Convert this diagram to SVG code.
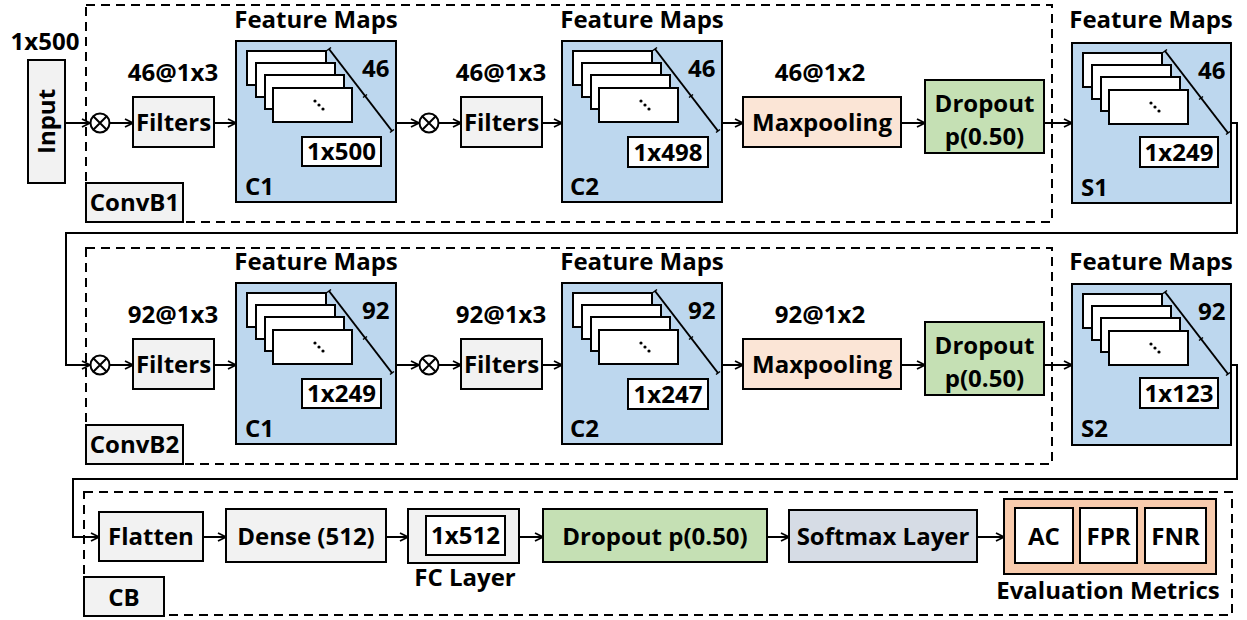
<svg xmlns="http://www.w3.org/2000/svg" width="1247" height="620" viewBox="0 0 1247 620">
  <style>
    text { font-family: "Open Sans", "Liberation Sans", sans-serif; font-weight: 700; fill: #000; }
    .t { font-size: 24px; }
    .c { text-anchor: middle; }
    .box { stroke: #000; stroke-width: 2; }
    .gray { fill: #f2f2f2; }
    .blue { fill: #bdd7ee; }
    .peach { fill: #fbe5d6; }
    .green { fill: #c5e0b4; }
    .slate { fill: #d6dce5; }
    .eval { fill: #f8cbad; }
    .white { fill: #fff; }
    .dash { fill: none; stroke: #000; stroke-width: 2; stroke-dasharray: 9 6; }
    .arr { fill: none; stroke: #000; stroke-width: 2; marker-end: url(#head); }
    .sheet { fill: #fff; stroke: #000; stroke-width: 2; }
  </style>
  <defs>
    <marker id="head" viewBox="0 0 10 10" refX="9" refY="5" markerWidth="10" markerHeight="10" markerUnits="userSpaceOnUse" orient="auto">
      <path d="M1,1 L9,5 L1,9" fill="none" stroke="#000" stroke-width="1.8"/>
    </marker>
    <!-- multiply junction -->
    <g id="mul">
      <circle cx="0" cy="0" r="9.5" fill="#fff" stroke="#000" stroke-width="2"/>
      <path d="M-6.7,-6.7 L6.7,6.7 M6.7,-6.7 L-6.7,6.7" stroke="#000" stroke-width="2"/>
    </g>
    <!-- stack of feature-map sheets, drawn relative to the block's top-left corner -->
    <g id="stack">
      <rect class="sheet" x="11" y="10" width="79" height="34"/>
      <rect class="sheet" x="20" y="22" width="79" height="34"/>
      <rect class="sheet" x="29" y="34" width="79" height="34"/>
      <rect class="sheet" x="37" y="47" width="79" height="34"/>
      <circle cx="79" cy="60" r="1.6"/>
      <circle cx="83" cy="64" r="1.6"/>
      <circle cx="87" cy="68" r="1.6"/>
      <path d="M93,8 L156,90" stroke="#000" stroke-width="2"/>
      <path d="M91,9.5 L95,6.5 M154,91.5 L158,88.5 M127,56.5 L131,53.5" stroke="#000" stroke-width="1.5"/>
    </g>
  </defs>

  <!-- ===== Conv block 1 ===== -->
  <g id="input">
    <rect class="box gray" x="28" y="60" width="37" height="123"/>
    <text class="t c" transform="translate(55,121.5) rotate(-90)">Input</text>
    <text class="t c" x="45" y="50">1x500</text>
  </g>

  <g id="convb1">
    <rect class="dash" x="86" y="5" width="966" height="217"/>
    <rect class="box gray" x="86" y="183" width="97" height="39"/>
    <text class="t c" x="134.5" y="211">ConvB1</text>
  </g>

  <g id="mul1a"><use href="#mul" x="100" y="123"/></g>
  <g id="filters1a">
    <text class="t c" x="173" y="81">46@1x3</text>
    <rect class="box gray" x="133" y="97" width="81" height="50"/>
    <text class="t c" x="173.5" y="131">Filters</text>
  </g>
  <g id="c1a">
    <text class="t c" x="316" y="28">Feature Maps</text>
    <rect class="box blue" x="236" y="41" width="160" height="161"/>
    <use href="#stack" x="236" y="41"/>
    <text class="t" x="362" y="77">46</text>
    <rect class="box white" x="302" y="137" width="79" height="29"/>
    <text class="t c" x="341.5" y="160">1x500</text>
    <text class="t" x="245" y="195">C1</text>
  </g>
  <g id="mul1b"><use href="#mul" x="429" y="123"/></g>
  <g id="filters1b">
    <text class="t c" x="501" y="81">46@1x3</text>
    <rect class="box gray" x="461" y="97" width="81" height="50"/>
    <text class="t c" x="501.5" y="131">Filters</text>
  </g>
  <g id="c2a">
    <text class="t c" x="642" y="28">Feature Maps</text>
    <rect class="box blue" x="562" y="41" width="160" height="161"/>
    <use href="#stack" x="562" y="41"/>
    <text class="t" x="688" y="77">46</text>
    <rect class="box white" x="628" y="137" width="80" height="30"/>
    <text class="t c" x="668" y="161">1x498</text>
    <text class="t" x="570" y="195">C2</text>
  </g>
  <g id="pool1">
    <text class="t c" x="820" y="81">46@1x2</text>
    <rect class="box peach" x="743" y="97" width="158" height="50"/>
    <text class="t c" x="822" y="131">Maxpooling</text>
  </g>
  <g id="drop1">
    <rect class="box green" x="925" y="80" width="119" height="73"/>
    <text class="t c" x="984.5" y="112">Dropout</text>
    <text class="t c" x="984.5" y="145">p(0.50)</text>
  </g>
  <g id="s1">
    <text class="t c" x="1151" y="28">Feature Maps</text>
    <rect class="box blue" x="1072" y="43" width="159" height="160"/>
    <use href="#stack" x="1072" y="43"/>
    <text class="t" x="1198" y="79">46</text>
    <rect class="box white" x="1140" y="137" width="78" height="30"/>
    <text class="t c" x="1179" y="161">1x249</text>
    <text class="t" x="1081" y="196">S1</text>
  </g>

  <!-- ===== Conv block 2 ===== -->
  <g id="convb2">
    <rect class="dash" x="86" y="248" width="966" height="216"/>
    <rect class="box gray" x="86" y="425" width="97" height="39"/>
    <text class="t c" x="134.5" y="453">ConvB2</text>
  </g>

  <g id="mul2a"><use href="#mul" x="100" y="365"/></g>
  <g id="filters2a">
    <text class="t c" x="173" y="323">92@1x3</text>
    <rect class="box gray" x="133" y="339" width="81" height="50"/>
    <text class="t c" x="173.5" y="373">Filters</text>
  </g>
  <g id="c1b">
    <text class="t c" x="316" y="270">Feature Maps</text>
    <rect class="box blue" x="236" y="283" width="160" height="161"/>
    <use href="#stack" x="236" y="283"/>
    <text class="t" x="362" y="319">92</text>
    <rect class="box white" x="302" y="379" width="79" height="29"/>
    <text class="t c" x="341.5" y="402">1x249</text>
    <text class="t" x="245" y="437">C1</text>
  </g>
  <g id="mul2b"><use href="#mul" x="429" y="365"/></g>
  <g id="filters2b">
    <text class="t c" x="501" y="323">92@1x3</text>
    <rect class="box gray" x="461" y="339" width="81" height="50"/>
    <text class="t c" x="501.5" y="373">Filters</text>
  </g>
  <g id="c2b">
    <text class="t c" x="642" y="270">Feature Maps</text>
    <rect class="box blue" x="562" y="283" width="160" height="161"/>
    <use href="#stack" x="562" y="283"/>
    <text class="t" x="688" y="319">92</text>
    <rect class="box white" x="628" y="379" width="80" height="30"/>
    <text class="t c" x="668" y="403">1x247</text>
    <text class="t" x="570" y="437">C2</text>
  </g>
  <g id="pool2">
    <text class="t c" x="820" y="323">92@1x2</text>
    <rect class="box peach" x="743" y="339" width="158" height="50"/>
    <text class="t c" x="822" y="373">Maxpooling</text>
  </g>
  <g id="drop2">
    <rect class="box green" x="925" y="322" width="119" height="73"/>
    <text class="t c" x="984.5" y="354">Dropout</text>
    <text class="t c" x="984.5" y="387">p(0.50)</text>
  </g>
  <g id="s2">
    <text class="t c" x="1151" y="270">Feature Maps</text>
    <rect class="box blue" x="1072" y="284" width="159" height="161"/>
    <use href="#stack" x="1072" y="284"/>
    <text class="t" x="1198" y="320">92</text>
    <rect class="box white" x="1140" y="378" width="78" height="30"/>
    <text class="t c" x="1179" y="402">1x123</text>
    <text class="t" x="1081" y="437">S2</text>
  </g>

  <!-- ===== Classification block ===== -->
  <g id="cb">
    <rect class="dash" x="84" y="492" width="1148" height="123"/>
    <rect class="box gray" x="84" y="577" width="80" height="39"/>
    <text class="t c" x="124" y="606">CB</text>
  </g>
  <g id="flatten">
    <rect class="box gray" x="99" y="512" width="104" height="49"/>
    <text class="t c" x="151" y="545">Flatten</text>
  </g>
  <g id="dense">
    <rect class="box gray" x="226" y="509" width="160" height="53"/>
    <text class="t c" x="306" y="545">Dense (512)</text>
  </g>
  <g id="fc">
    <rect class="box gray" x="408" y="509" width="111" height="54"/>
    <rect class="box white" x="426" y="516" width="79" height="39"/>
    <text class="t c" x="465.5" y="544">1x512</text>
    <text class="t c" x="465" y="586">FC Layer</text>
  </g>
  <g id="drop3">
    <rect class="box green" x="543" y="509" width="224" height="53"/>
    <text class="t c" x="655" y="545">Dropout p(0.50)</text>
  </g>
  <g id="softmax">
    <rect class="box slate" x="789" y="510" width="188" height="52"/>
    <text class="t c" x="883" y="545">Softmax Layer</text>
  </g>
  <g id="metrics">
    <rect class="box eval" x="1004" y="499" width="212" height="75"/>
    <rect class="box white" x="1015" y="508" width="58" height="55"/>
    <text class="t c" x="1044" y="545">AC</text>
    <rect class="box white" x="1080" y="508" width="57" height="55"/>
    <text class="t c" x="1108.5" y="545">FPR</text>
    <rect class="box white" x="1145" y="508" width="61" height="55"/>
    <text class="t c" x="1175.5" y="545">FNR</text>
    <text class="t c" x="1108" y="599">Evaluation Metrics</text>
  </g>

  <!-- ===== connectors ===== -->
  <g id="connectors">
    <line class="arr" x1="65" y1="123" x2="90" y2="123"/>
    <line class="arr" x1="110" y1="123" x2="133" y2="123"/>
    <line class="arr" x1="214" y1="123" x2="236" y2="123"/>
    <line class="arr" x1="396" y1="123" x2="419" y2="123"/>
    <line class="arr" x1="439" y1="123" x2="461" y2="123"/>
    <line class="arr" x1="542" y1="123" x2="562" y2="123"/>
    <line class="arr" x1="722" y1="123" x2="743" y2="123"/>
    <line class="arr" x1="901" y1="123" x2="925" y2="123"/>
    <line class="arr" x1="1044" y1="123" x2="1072" y2="123"/>
    <polyline class="arr" points="1231,123 1237,123 1237,233 66,233 66,365 90,365"/>

    <line class="arr" x1="110" y1="365" x2="133" y2="365"/>
    <line class="arr" x1="214" y1="365" x2="236" y2="365"/>
    <line class="arr" x1="396" y1="365" x2="419" y2="365"/>
    <line class="arr" x1="439" y1="365" x2="461" y2="365"/>
    <line class="arr" x1="542" y1="365" x2="562" y2="365"/>
    <line class="arr" x1="722" y1="365" x2="743" y2="365"/>
    <line class="arr" x1="901" y1="365" x2="925" y2="365"/>
    <line class="arr" x1="1044" y1="365" x2="1072" y2="365"/>
    <polyline class="arr" points="1231,365 1237,365 1237,479 73,479 73,537 99,537"/>

    <line class="arr" x1="203" y1="537" x2="226" y2="537"/>
    <line class="arr" x1="386" y1="537" x2="408" y2="537"/>
    <line class="arr" x1="519" y1="537" x2="543" y2="537"/>
    <line class="arr" x1="767" y1="537" x2="789" y2="537"/>
    <line class="arr" x1="977" y1="537" x2="1004" y2="537"/>
  </g>
</svg>
